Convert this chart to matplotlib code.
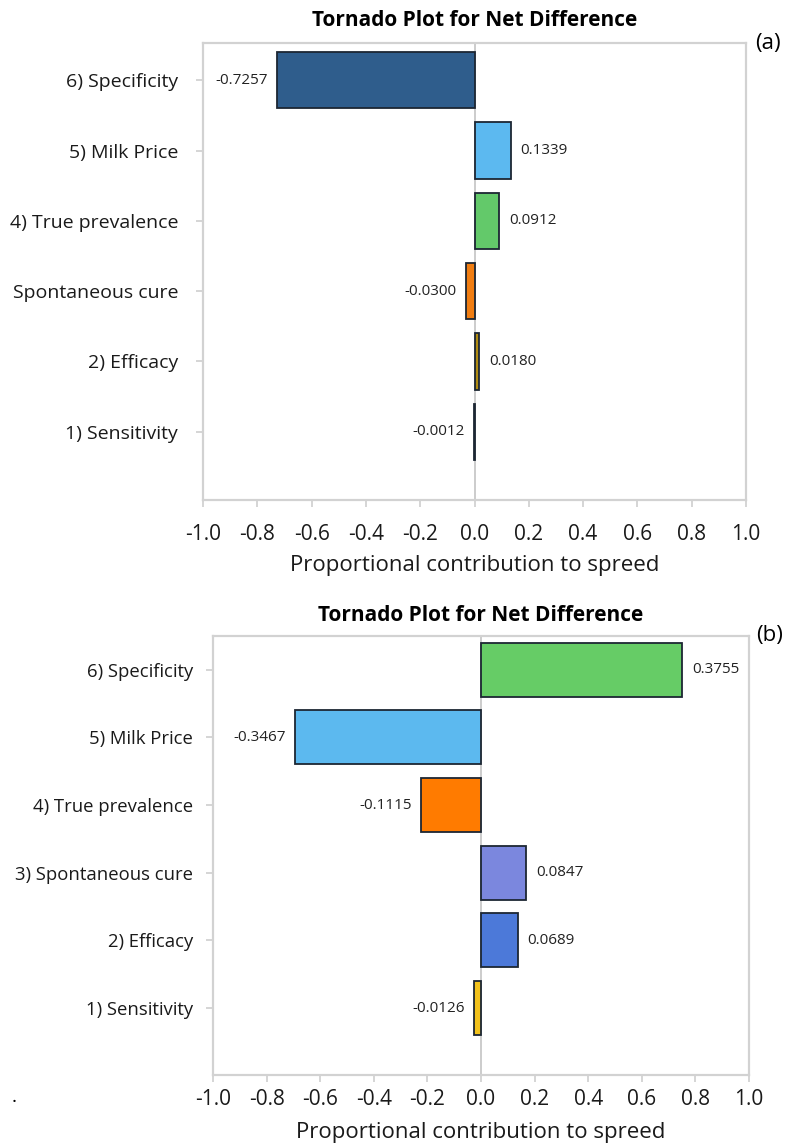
import matplotlib
matplotlib.use("Agg")
import matplotlib.pyplot as plt

plt.rcParams["font.family"] = ["Open Sans", "DejaVu Sans"]

# panel (a)
labels_a = ["1) Sensitivity", "2) Efficacy", "Spontaneous cure",
            "4) True prevalence", "5) Milk Price", "6) Specificity"]
bars_a = [-0.0012, 0.0180, -0.0300, 0.0912, 0.1339, -0.7257]
text_a = ["-0.0012", "0.0180", "-0.0300", "0.0912", "0.1339", "-0.7257"]
colors_a = ["#3b3f5e", "#b08b12", "#f07d12", "#63c96a", "#5cb9f0", "#2f5d8c"]

# panel (b) - bars drawn at the lengths seen in the picture
labels_b = ["1) Sensitivity", "2) Efficacy", "3) Spontaneous cure",
            "4) True prevalence", "5) Milk Price", "6) Specificity"]
bars_b = [-0.0252, 0.1378, 0.1694, -0.2230, -0.6934, 0.7510]
text_b = ["-0.0126", "0.0689", "0.0847", "-0.1115", "-0.3467", "0.3755"]
colors_b = ["#f2c21c", "#4c79d9", "#7b87de", "#ff7b00", "#5cb9ef", "#66cc66"]

xticks = [-1.0, -0.8, -0.6, -0.4, -0.2, 0.0, 0.2, 0.4, 0.6, 0.8, 1.0]
GRAY = "#d2d2d2"


def tornado(ax, labels, bars, texts, colors, ylim, xpad, ypad, ysize,
            lpad, tpad):
    ypos = range(len(labels))
    ax.barh(ypos, bars, height=0.8, color=colors, edgecolor="#1c2633",
            linewidth=1.3, zorder=3)
    ax.axvline(0, color="#c8c8c8", lw=1.3, zorder=2)
    for y, v, t in zip(ypos, bars, texts):
        off = 7 if v >= 0 else -7
        ax.annotate(t, (v, y), xytext=(off, 0), textcoords="offset points",
                    ha="left" if v >= 0 else "right", va="center",
                    fontsize=11, color="#222222")
    ax.set_xlim(-1.0, 1.0)
    ax.set_ylim(*ylim)
    ax.set_xticks(xticks)
    ax.set_xticklabels([f"{t:.1f}" for t in xticks])
    ax.set_yticks(list(ypos))
    ax.set_yticklabels(labels)
    ax.tick_params(axis="x", labelsize=15, color=GRAY, length=5, width=1.3,
                   pad=xpad, labelcolor="#1a1a1a")
    ax.tick_params(axis="y", labelsize=ysize, color=GRAY, length=5, width=1.3,
                   pad=ypad, labelcolor="#1a1a1a")
    for s in ax.spines.values():
        s.set_color(GRAY)
        s.set_linewidth(1.6)
    ax.set_xlabel("Proportional contribution to spreed", fontsize=16,
                  labelpad=lpad, color="#1a1a1a")
    ax.set_title("Tornado Plot for Net Difference", fontsize=15,
                 fontweight="bold", pad=tpad)


fig = plt.figure(figsize=(7.86, 11.43), dpi=100)
ax_a = fig.add_axes([0.2583, 0.5626, 0.6908, 0.3998])
ax_b = fig.add_axes([0.2710, 0.0595, 0.6819, 0.3841])

tornado(ax_a, labels_a, bars_a, text_a, colors_a, (-0.97, 5.53),
        12, 13, 14, 7.5, 12)
tornado(ax_b, labels_b, bars_b, text_b, colors_b, (-0.99, 5.50),
        5, 9.5, 13.3, 9, 11)

fig.text(768 / 786, 1 - 43 / 1143, "(a)", fontsize=16, ha="center", va="center")
fig.text(770 / 786, 1 - 635 / 1143, "(b)", fontsize=16, ha="center", va="center")
fig.text(14 / 786, 1 - 1097 / 1143, ".", fontsize=14, ha="center", va="center")

fig.savefig("out.png", dpi=100)
